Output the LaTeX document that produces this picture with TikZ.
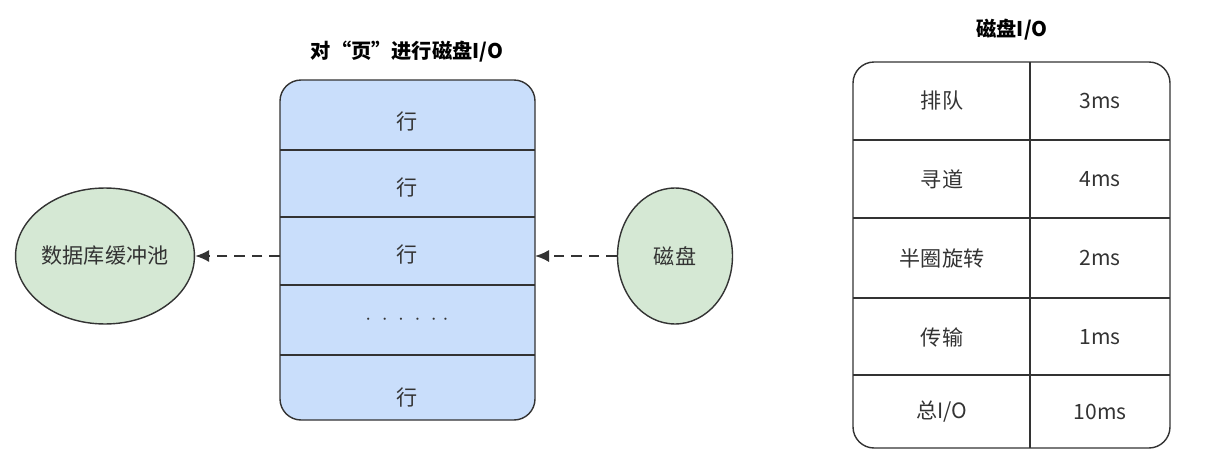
\documentclass[tikz,border=0pt]{standalone}
\usepackage{fontspec}
\setmainfont{Noto Sans CJK SC}
\usetikzlibrary{arrows.meta,shapes.geometric}
\definecolor{dbgreen}{HTML}{D5E8D4}
\definecolor{pageblue}{HTML}{C9DEFB}
\definecolor{edge}{HTML}{333333}
\tikzset{
  blob/.style={ellipse, draw=edge, thick, fill=dbgreen, inner sep=0pt},
  txt/.style={font=\fontsize{12}{14}\selectfont, text=edge},
  ttl/.style={font=\fontsize{11.5}{14}\selectfont\bfseries},
  feed/.style={very thick, dash pattern=on 6pt off 4pt, edge, -{Latex[length=8pt,width=7pt]}}
}
\begin{document}
\begin{tikzpicture}[x=0.02cm,y=-0.02cm]
        \useasboundingbox (0,0) rectangle (1217,470);
        % Tampon
        \node[blob, minimum width=3.4cm, minimum height=2.72cm, txt] (pool) at (105,256) {数据库缓冲池};
        % Page
        \node[ttl] (pagettl) at (407,52) {对“页”进行磁盘I/O};
        \draw[thick, edge, fill=pageblue, rounded corners=12] (280,80) rectangle (535,420);
        \foreach \y in {150,217,285,355}
          \draw[thick, edge] (280,\y) -- (535,\y);
        \node[txt] (r1) at (407,122) {行};
        \node[txt] (r2) at (407,188) {行};
        \node[txt] (r3) at (407,255) {行};
        \node[txt] (r4) at (407,320) {$\cdot\;\cdot\;\cdot\;\cdot\;\cdot\;\cdot$};
        \node[txt] (r5) at (407,398) {行};
        \coordinate (pageL) at (280,256);
        \coordinate (pageR) at (535,256);
        % Disque
        \node[blob, minimum width=2.3cm, minimum height=2.72cm, txt] (disk) at (675,256) {磁盘};
        \draw[feed] (disk) -- (pageR);
        \draw[feed] (pageL) -- (pool);
        % Tableau
        \node[ttl] (tabttl) at (1012,30) {磁盘I/O};
        \draw[thick, edge, rounded corners=12] (853,62) rectangle (1170,448);
        \draw[thick, edge] (1030,62) -- (1030,448);
        \foreach \y in {140,218,298,375}
          \draw[thick, edge] (853,\y) -- (1170,\y);
        \foreach \name/\t/\y [count=\i] in {排队/3ms/101, 寻道/4ms/179, 半圈旋转/2ms/258, 传输/1ms/337, {总I/O}/10ms/412} {
          \node[txt] (step\i) at (942,\y) {\name};
          \node[txt] (time\i) at (1100,\y) {\t};
        }
\end{tikzpicture}
\end{document}
